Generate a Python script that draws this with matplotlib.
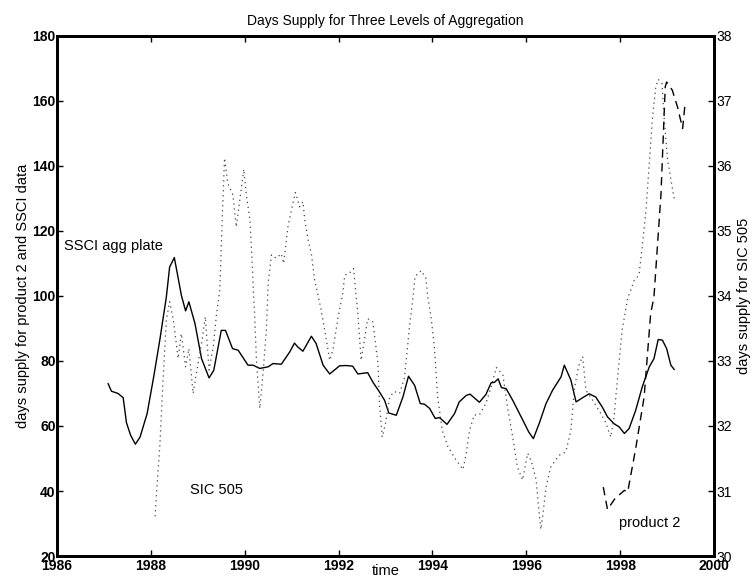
import matplotlib
matplotlib.use("Agg")
import matplotlib.pyplot as plt

# ============ DATA ============
# SSCI agg plate (left axis)
ssci_t = [1987.09, 1987.16, 1987.30, 1987.41, 1987.48, 1987.57, 1987.67, 1987.77, 1987.92,
          1988.06, 1988.19, 1988.33, 1988.40, 1988.50, 1988.65, 1988.74, 1988.81, 1988.94,
          1989.08, 1989.24, 1989.34, 1989.50, 1989.59, 1989.74, 1989.86, 1990.07, 1990.18,
          1990.32, 1990.50, 1990.60, 1990.78, 1990.96, 1991.06, 1991.13, 1991.24, 1991.42,
          1991.52, 1991.67, 1991.81, 1992.02, 1992.16, 1992.30, 1992.41, 1992.62, 1992.73,
          1992.87, 1992.98, 1993.07, 1993.23, 1993.37, 1993.49, 1993.62, 1993.74, 1993.83,
          1993.94, 1994.06, 1994.15, 1994.31, 1994.47, 1994.57, 1994.72, 1994.80, 1995.00,
          1995.14, 1995.25, 1995.32, 1995.40, 1995.47, 1995.57, 1995.71, 1995.89, 1996.05,
          1996.15, 1996.28, 1996.42, 1996.56, 1996.74, 1996.81, 1996.95, 1997.06, 1997.20,
          1997.34, 1997.48, 1997.62, 1997.73, 1997.87, 1997.98, 1998.09, 1998.19, 1998.33,
          1998.47, 1998.62, 1998.72, 1998.81, 1998.90, 1998.99, 1999.08, 1999.15]
ssci_v = [73.0, 70.7, 70.0, 68.7, 61.0, 57.1, 54.4, 56.6, 63.8,
          75.1, 86.4, 99.7, 108.9, 111.8, 100.2, 95.4, 98.2, 91.5,
          80.7, 74.8, 77.1, 89.4, 89.4, 83.8, 83.3, 78.7, 78.7,
          77.7, 78.2, 79.2, 79.0, 82.8, 85.5, 84.3, 83.0, 87.6,
          85.4, 78.7, 76.0, 78.5, 78.6, 78.4, 76.0, 76.4, 73.5,
          70.5, 67.9, 64.0, 63.3, 68.9, 75.3, 72.5, 66.9, 66.7,
          65.4, 62.3, 62.6, 60.5, 63.8, 67.4, 69.4, 69.8, 67.3,
          69.7, 73.3, 73.4, 74.5, 71.8, 71.5, 67.9, 62.8, 58.2,
          56.1, 61.0, 66.9, 71.0, 75.1, 78.7, 74.1, 67.4, 68.7,
          69.9, 68.9, 65.8, 62.8, 60.7, 59.7, 57.7, 59.2, 64.8,
          72.0, 78.2, 80.7, 86.6, 86.4, 83.8, 78.7, 77.4]

# product 2 (left axis)
prod_t = [1997.64, 1997.73, 1997.89, 1998.09, 1998.16, 1998.33, 1998.51, 1998.65, 1998.72,
          1998.87, 1998.96, 1998.99, 1999.11, 1999.22, 1999.33, 1999.38]
prod_v = [41.2, 34.3, 37.7, 40.2, 39.7, 53.0, 68.9, 94.6, 99.7,
          131.5, 164.3, 165.8, 163.3, 158.2, 151.5, 158.7]

# SIC 505 (right axis)
sic_t = [1988.09, 1988.12, 1988.19, 1988.26, 1988.33, 1988.40, 1988.48, 1988.55, 1988.58,
         1988.65, 1988.74, 1988.81, 1988.90, 1988.97, 1989.08, 1989.16, 1989.24, 1989.33,
         1989.40, 1989.47, 1989.52, 1989.57, 1989.64, 1989.75, 1989.82, 1989.93, 1989.98,
         1990.03, 1990.11, 1990.16, 1990.19, 1990.21, 1990.25, 1990.32, 1990.39, 1990.46,
         1990.50, 1990.57, 1990.67, 1990.78, 1990.83, 1990.92, 1991.01, 1991.08, 1991.17,
         1991.24, 1991.28, 1991.35, 1991.42, 1991.49, 1991.55, 1991.63, 1991.74, 1991.81,
         1991.88, 1991.99, 1992.09, 1992.13, 1992.23, 1992.32, 1992.36, 1992.41, 1992.48,
         1992.55, 1992.62, 1992.73, 1992.84, 1992.87, 1992.93, 1993.00, 1993.09, 1993.19,
         1993.30, 1993.40, 1993.45, 1993.51, 1993.58, 1993.63, 1993.76, 1993.86, 1993.90,
         1993.97, 1994.04, 1994.11, 1994.21, 1994.33, 1994.50, 1994.65, 1994.72, 1994.79,
         1994.89, 1995.00, 1995.14, 1995.25, 1995.36, 1995.50, 1995.60, 1995.71, 1995.81,
         1995.92, 1996.03, 1996.11, 1996.21, 1996.26, 1996.31, 1996.36, 1996.42, 1996.52,
         1996.70, 1996.84, 1996.95, 1997.02, 1997.11, 1997.20, 1997.27, 1997.41, 1997.59,
         1997.70, 1997.80, 1997.87, 1997.94, 1998.04, 1998.16, 1998.30, 1998.40, 1998.47,
         1998.55, 1998.62, 1998.69, 1998.76, 1998.81, 1998.89, 1998.94, 1999.01, 1999.08,
         1999.15]
sic_v = [30.61, 30.96, 31.68, 32.71, 33.63, 33.91, 33.63, 33.22, 33.04,
         33.42, 32.91, 33.19, 32.50, 32.81, 33.27, 33.68, 32.86, 33.22,
         33.73, 34.10, 35.17, 36.12, 35.73, 35.55, 35.06, 35.68, 35.95,
         35.58, 35.17, 34.50, 33.99, 33.73, 33.01, 32.27, 32.81, 33.47,
         34.20, 34.63, 34.58, 34.65, 34.50, 35.06, 35.37, 35.59, 35.37,
         35.45, 35.17, 34.86, 34.65, 34.24, 34.05, 33.78, 33.32, 33.01,
         33.17, 33.68, 34.04, 34.32, 34.35, 34.42, 34.10, 33.73, 33.01,
         33.32, 33.65, 33.60, 32.96, 32.35, 31.83, 32.04, 32.45, 32.53,
         32.50, 32.73, 33.07, 33.53, 33.94, 34.30, 34.39, 34.27, 33.99,
         33.68, 33.22, 32.45, 31.93, 31.68, 31.48, 31.33, 31.58, 31.93,
         32.17, 32.17, 32.35, 32.60, 32.90, 32.79, 32.29, 31.83, 31.37,
         31.17, 31.58, 31.45, 31.17, 30.76, 30.41, 30.68, 31.06, 31.37,
         31.55, 31.60, 31.93, 32.55, 32.91, 33.07, 32.55, 32.40, 32.19,
         32.04, 31.83, 32.14, 32.71, 33.47, 33.96, 34.24, 34.32, 34.76,
         35.32, 36.04, 36.76, 37.22, 37.33, 37.27, 36.71, 36.09, 35.79,
         35.50]

x_ticks = [1986, 1988, 1990, 1992, 1994, 1996, 1998, 2000]
left_ticks = [20, 40, 60, 80, 100, 120, 140, 160, 180]
right_ticks = [30, 31, 32, 33, 34, 35, 36, 37, 38]

plt.rcParams["font.family"] = ["Liberation Sans", "DejaVu Sans"]

fig = plt.figure(figsize=(7.54, 5.78), dpi=100)
ax = fig.add_axes([0.0756, 0.038, 0.8714, 0.9])
ax2 = ax.twinx()

ax.plot(ssci_t, ssci_v, color="black", lw=1.0)
ax.plot(prod_t, prod_v, color="black", lw=1.0, linestyle=(0, (6, 4)))
ax2.plot(sic_t, sic_v, color="#444444", lw=0.9, linestyle=(0, (1, 3)))

ax.set_xlim(1986, 2000)
ax.set_ylim(20, 180)
ax2.set_ylim(30, 38)
ax.set_xticks(x_ticks)
ax.set_yticks(left_ticks)
ax2.set_yticks(right_ticks)

ax.tick_params(direction="in", length=4, width=1, labelsize=10, pad=1)
ax.tick_params(axis="x", pad=2, top=True)
ax2.tick_params(direction="in", length=4, width=1, labelsize=10, pad=2)
for lab in ax.get_xticklabels() + ax.get_yticklabels():
    lab.set_fontweight("bold")

for a in (ax, ax2):
    for s in a.spines.values():
        s.set_linewidth(2)

ax.set_title("Days Supply for Three Levels of Aggregation", fontsize=10, pad=8)
ax.set_ylabel("days supply for product 2 and SSCI data", fontsize=10.5, labelpad=2)
ax2.set_ylabel("days supply for SIC 505", fontsize=10.5, labelpad=3)
ax.set_xlabel("time", fontsize=10.5, labelpad=-6)

ax.text(1986.15, 115.3, "SSCI agg plate", fontsize=10.5, va="center", ha="left")
ax.text(1988.83, 40.2, "SIC 505", fontsize=10.5, va="center", ha="left")
ax.text(1997.98, 30.1, "product 2", fontsize=10.5, va="center", ha="left")

fig.savefig("out.png", dpi=100, facecolor="white")
